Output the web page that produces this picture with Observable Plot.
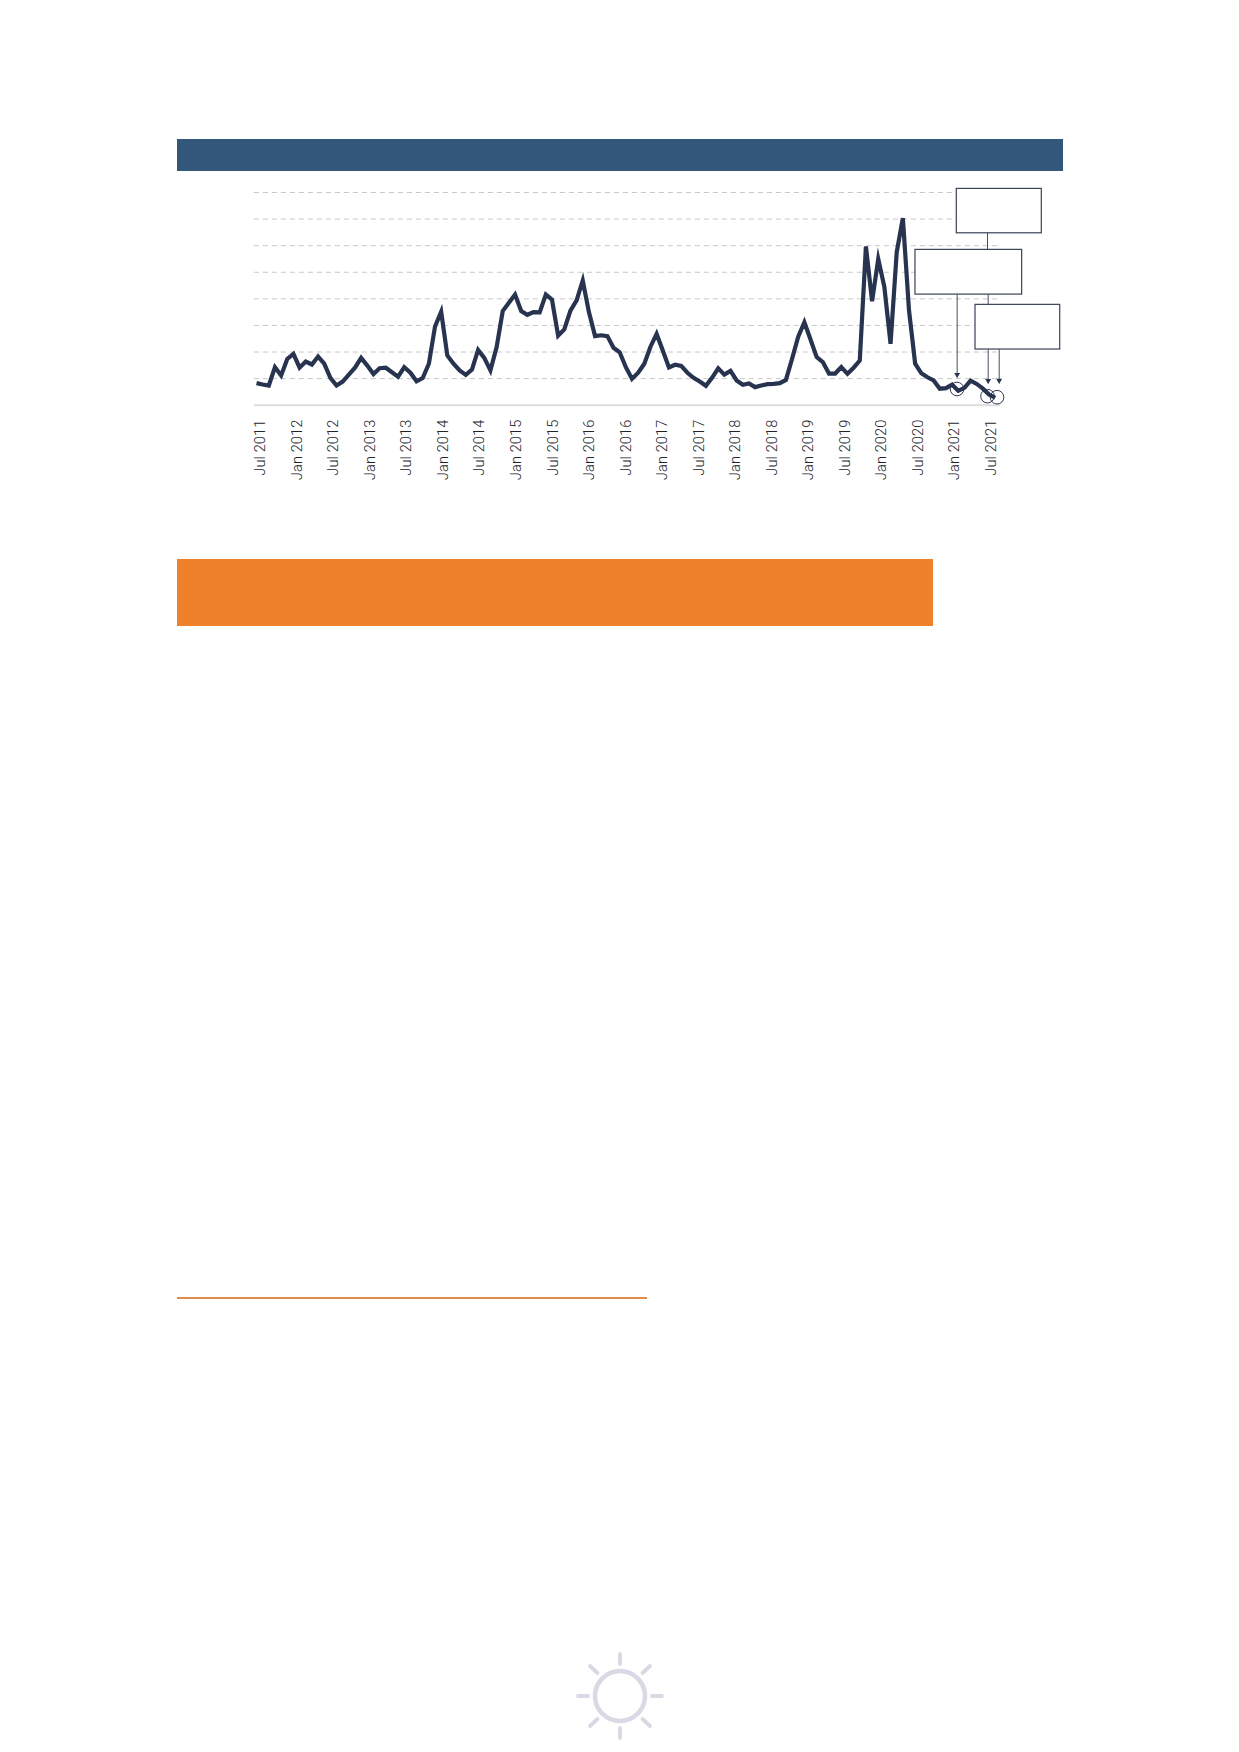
<!DOCTYPE html>
<html>
<head>
<meta charset="utf-8">
<script src="https://cdn.jsdelivr.net/npm/d3@7"></script>
<script src="https://cdn.jsdelivr.net/npm/@observablehq/plot@0.6"></script>
<style>
html,body{margin:0;padding:0;background:#fff;}
body{position:relative;width:1239px;height:1752px;overflow:hidden;}
.band{position:absolute;}
#chart svg{position:absolute;left:170px;top:170px;overflow:visible;}
</style>
</head>
<body>
<div class="band" style="left:177px;top:138.5px;width:886px;height:32.5px;background:#33567b"></div>
<div class="band" style="left:177px;top:559px;width:756px;height:67px;background:#f0812b"></div>
<div class="band" style="left:177px;top:1297px;width:470px;height:2px;background:#e08a45"></div>
<div id="chart"></div>
<svg id="sun" width="120" height="112" style="position:absolute;left:560px;top:1640px" fill="none" stroke="#d9d9e6" stroke-linecap="round">
  <circle cx="60" cy="56" r="25" stroke-width="4.6"/>
  <g stroke-width="3.8">
    <path d="M60 14V24M60 88V98M18 56H28M92 56H102M30 26L37.5 33M90 26L82.5 33M30 86L37.5 79M90 86L82.5 79"/>
  </g>
</svg>
<script>
// Monthly series, Jul 2011 to Jul 2021 (gridlines every 10 units)
const values = [
  8.3,7.8,7.4,14.3,11.2,17.4,19.3,14.1,16.4,15.3,18.3,15.6,10.3,7.4,8.9,11.5,14.1,17.8,14.9,11.7,
  13.9,14.1,12.4,10.7,14.3,12.2,9.0,10.2,15.6,29.6,35.2,18.7,15.6,13.1,11.4,13.4,20.8,17.8,13.1,21.8,
  35.4,38.5,41.6,35.4,34.0,35.0,34.9,41.6,39.7,26.2,28.5,35.6,39.4,46.9,35.0,26.0,26.3,26.0,21.6,19.9,
  14.3,9.9,12.2,15.6,22.0,26.8,20.6,14.2,15.2,14.8,12.2,10.3,8.9,7.3,10.3,13.9,11.5,12.9,9.3,7.7,
  8.2,6.8,7.4,7.9,8.0,8.3,9.5,17.4,25.8,31.2,24.7,18.1,16.2,11.9,11.9,14.3,11.8,14.1,16.8,59.7,
  39.1,55.0,44.4,23.1,57.5,70.4,35.6,15.6,12.0,10.5,9.3,6.2,6.4,7.7,5.4,6.5,9.2,8.0,6.2,4.0,2.8
];
const months = values.map((v, i) => ({i, v}));
const tickLabels = [
  "Jul 2011","Jan 2012","Jul 2012","Jan 2013","Jul 2013","Jan 2014","Jul 2014","Jan 2015","Jul 2015",
  "Jan 2016","Jul 2016","Jan 2017","Jul 2017","Jan 2018","Jul 2018","Jan 2019","Jul 2019","Jan 2020",
  "Jul 2020","Jan 2021","Jul 2021"
];
const gridValues = [10,20,30,40,50,60,70,80];
const boxes = [
  {x1:113.76,x2:127.57,y1:64.66,y2:81.35},
  {x1:107.05,x2:124.38,y1:41.6,y2:58.42},
  {x1:116.8,x2:130.56,y1:20.94,y2:37.74}
];
const connectors = [
  {x:118.75,y1:64.66,y2:58.42},
  {x:118.86,y1:41.6,y2:37.74}
];
const arrows = [
  {x:113.82,y1:41.6,y2:10.3},
  {x:118.86,y1:20.94,y2:8.05},
  {x:120.65,y1:20.94,y2:8.1}
];
const circles = [
  {x:113.8,y:6.1},
  {x:118.75,y:3.4},
  {x:120.3,y:3.0}
];
const ticks = tickLabels.map((label, k) => ({label, x: 0.65 + k * 6 * 0.9893}));

const plot = Plot.plot({
  width: 900,
  height: 320,
  margin: 0,
  style: {fontFamily: "Roboto", background: "transparent", letterSpacing: "0.1px"},
  x: {axis: null, domain: [0, 120], range: [86, 824.7]},
  y: {axis: null, domain: [0, 80], range: [234.7, 22]},
  marks: [
    Plot.ruleY(gridValues, {x1: -0.35, x2: 120.4, stroke: "#c8c8c8", strokeWidth: 1, strokeDasharray: "5,4"}),
    Plot.ruleY([0], {x1: -0.35, x2: 120.9, stroke: "#dedede", strokeWidth: 2}),
    Plot.ruleX(connectors, {x: "x", y1: "y1", y2: "y2", stroke: "#474e60", strokeWidth: 1}),
    Plot.rect(boxes, {x1: "x1", x2: "x2", y1: "y1", y2: "y2", fill: "#fff", stroke: "#3a4256", strokeWidth: 1.2}),
    Plot.ruleX(arrows, {x: "x", y1: "y1", y2: "y2", stroke: "#4a5163", strokeWidth: 1}),
    Plot.dot(arrows, {x: "x", y: d => d.y2 + 1.2, symbol: "triangle", rotate: 180, r: 2.2, fill: "#2a3550", stroke: "none"}),
    Plot.line(months, {x: "i", y: "v", stroke: "#27334f", strokeWidth: 4.2, strokeLinejoin: "miter", strokeLinecap: "butt", strokeMiterlimit: 6, curve: "linear"}),
    Plot.dot(circles, {x: "x", y: "y", r: 6.8, fill: "none", stroke: "#2a3550", strokeWidth: 1}),
    Plot.text(ticks, {x: "x", y: -5.4, text: "label", rotate: -90, textAnchor: "end", lineAnchor: "middle", fontSize: 14.6, fontWeight: 300, fill: "#222429"})
  ]
});
document.getElementById("chart").appendChild(plot);
</script>
</body>
</html>
